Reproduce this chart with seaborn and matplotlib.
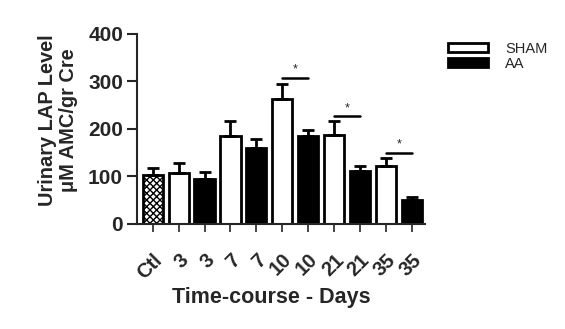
import matplotlib
matplotlib.use("Agg")
import matplotlib.pyplot as plt
import seaborn as sns
import pandas as pd
import numpy as np
from matplotlib.patches import Patch

conditions = ["Ctl", "3 SHAM", "3 AA", "7 SHAM", "7 AA", "10 SHAM", "10 AA",
              "21 SHAM", "21 AA", "35 SHAM", "35 AA"]
tick_labels = ["Ctl", "3", "3", "7", "7", "10", "10", "21", "21", "35", "35"]
groups = ["Ctl", "SHAM", "AA", "SHAM", "AA", "SHAM", "AA", "SHAM", "AA", "SHAM", "AA"]
means = [102, 106, 94, 184, 160, 262, 185, 186, 112, 122, 50]
errors = [15, 21, 14, 32, 18, 32, 12, 30, 9, 16, 7]
sig_pairs = [(5, 6), (7, 8), (9, 10)]
sig_heights = [308, 227, 150]

sns.set_style("ticks")
plt.rcParams["font.family"] = ["Liberation Sans", "DejaVu Sans"]

df = pd.DataFrame({"cond": conditions, "value": means, "group": groups})

fig = plt.figure(figsize=(5.65, 3.29), dpi=100)
ax = fig.add_axes([0.2425, 0.32, 0.5095, 0.5767])

palette = {"Ctl": "white", "SHAM": "white", "AA": "black"}
sns.barplot(data=df, x="cond", y="value", hue="group", palette=palette,
            dodge=False, width=0.78, edgecolor="black", linewidth=2.0,
            legend=False, ax=ax, errorbar=None)

# hatch Ctl bar
for p in ax.patches:
    x = p.get_x() + p.get_width() / 2
    if abs(x - 0) < 0.01 and p.get_height() > 0:
        p.set_hatch("xxxxx")

xs = np.arange(len(conditions))
ax.errorbar(xs, means, yerr=[np.zeros(len(errors)), errors], fmt="none",
            ecolor="black", elinewidth=2.0, capsize=4.5, capthick=2.0, zorder=1)

for (a, b), h in zip(sig_pairs, sig_heights):
    ax.plot([xs[a], xs[b]], [h, h], color="black", lw=1.8)
    ax.text((xs[a] + xs[b]) / 2, h + 4, "*", ha="center", va="bottom", fontsize=9)

ax.set_ylim(0, 400)
ax.set_xlim(-0.61, 10.51)
ax.set_yticks([0, 100, 200, 300, 400])
ax.set_yticklabels(["0", "100", "200", "300", "400"], fontsize=15, fontweight="bold")
ax.set_xticks(xs)
ax.set_xticklabels(tick_labels, rotation=45, ha="right", rotation_mode="anchor",
                   fontsize=14.5, fontweight="bold")
ax.tick_params(axis="x", length=6, width=1.2, pad=13)
ax.tick_params(axis="y", length=7, width=1.5, pad=3)
sns.despine(ax=ax)
ax.spines["left"].set_linewidth(1.5)
ax.spines["bottom"].set_linewidth(1.5)

ax.set_xlabel("Time-course - Days", fontsize=15.5, fontweight="bold", va="top")
ax.xaxis.set_label_coords(0.465, -0.334)
ax.set_ylabel("Urinary LAP Level\nμM AMC/gr Cre", fontsize=14.4, fontweight="bold",
              linespacing=1.15)
ax.yaxis.set_label_coords(-0.205, 0.547)

handles = [Patch(facecolor="white", edgecolor="black", linewidth=2, label="SHAM"),
           Patch(facecolor="black", edgecolor="black", linewidth=2, label="AA")]
fig.legend(handles=handles, loc="upper left", bbox_to_anchor=(448 / 565, 1 - 42 / 329),
           frameon=False, fontsize=10.5, handlelength=2.74, handleheight=0.55,
           labelspacing=0.05, handletextpad=1.2, borderpad=0, borderaxespad=0)

fig.savefig("out.png", dpi=100)
